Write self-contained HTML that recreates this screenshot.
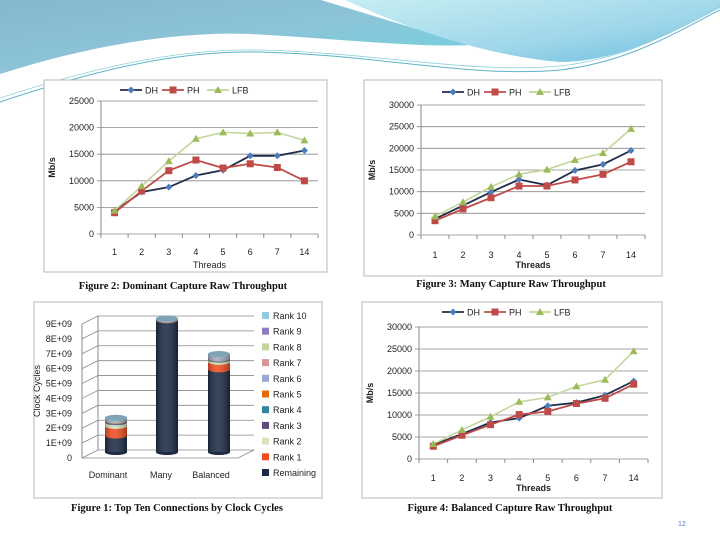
<!DOCTYPE html>
<html><head><meta charset="utf-8"><style>
html,body{margin:0;padding:0;background:#fff;}
svg{display:block;font-family:"Liberation Sans",sans-serif;}
.t{font-size:9px;fill:#222;}
.cap{font-family:"Liberation Serif",serif;font-weight:bold;font-size:10.5px;fill:#111;}
</style></head><body>
<svg id="s" width="720" height="540" viewBox="0 0 720 540">
<defs>
<linearGradient id="gl" x1="0" y1="0" x2="1" y2="1"><stop offset="0" stop-color="#86b7cf"/><stop offset="0.5" stop-color="#8cc4d8"/><stop offset="1" stop-color="#6ed3e2"/></linearGradient>
<linearGradient id="gr" x1="0" y1="0" x2="1" y2="1"><stop offset="0" stop-color="#c6eef2"/><stop offset="0.6" stop-color="#9fd6ea"/><stop offset="1" stop-color="#6bbde0"/></linearGradient>
<linearGradient id="cyl" x1="0" x2="1"><stop offset="0" stop-color="#000" stop-opacity="0.25"/><stop offset="0.4" stop-color="#fff" stop-opacity="0.12"/><stop offset="1" stop-color="#000" stop-opacity="0.3"/></linearGradient>
</defs>
<g>
<path d="M0,0 L321,0 C370,15 420,30 470,45 C420,48 330,38 250,34 C180,31 90,45 0,74 Z" fill="url(#gl)"/>
<path d="M345,0 L720,0 L720,8 C660,40 610,62 560,62 C480,55 400,25 345,0 Z" fill="url(#gr)"/>
<path d="M0,102 C80,75 170,50 260,52 C380,55 470,78 560,70 C630,62 680,30 720,10" fill="none" stroke="#5fb3c7" stroke-width="1"/>
<path d="M0,98 C80,72 170,48 260,50 C380,53 470,74 560,66 C630,58 680,28 720,6" fill="none" stroke="#8fcfdc" stroke-width="0.8"/>
</g>
<g id="charts"></g>
<text x="678" y="526" font-size="7" fill="#4a7ebb">12</text>
</svg>
<script>
// ---- Line chart data ----
const threadCats = ["1","2","3","4","5","6","7","14"];
const seriesNames = ["DH","PH","LFB"];
const fig2DH  = [4300, 7900, 8800, 11000, 12000, 14700, 14700, 15700];
const fig2PH  = [4000, 8100, 11900, 13900, 12400, 13200, 12500, 10000];
const fig2LFB = [4400, 9000, 13700, 17900, 19100, 18900, 19100, 17600];
const fig2Ticks = [0,5000,10000,15000,20000,25000];
const fig3DH  = [3700, 6800, 9900, 12800, 11500, 14900, 16300, 19500];
const fig3PH  = [3300, 6000, 8600, 11300, 11300, 12700, 14000, 16900];
const fig3LFB = [4300, 7600, 11100, 14000, 15100, 17300, 18900, 24500];
const fig3Ticks = [0,5000,10000,15000,20000,25000,30000];
const fig4DH  = [3200, 5700, 8300, 9300, 12100, 12800, 14500, 17700];
const fig4PH  = [2900, 5400, 7800, 10100, 10800, 12600, 13800, 17000];
const fig4LFB = [3400, 6600, 9600, 13000, 14000, 16500, 18000, 24500];
const fig4Ticks = [0,5000,10000,15000,20000,25000,30000];
// ---- Bar chart data (units of 1E+09 clock cycles) ----
const barCats = ["Dominant","Many","Balanced"];
const rankNames = ["Remaining","Rank 1","Rank 2","Rank 3","Rank 4","Rank 5","Rank 6","Rank 7","Rank 8","Rank 9","Rank 10"];
const domStack = [1.1, 0.65, 0.25, 0.05, 0.03, 0.03, 0.04, 0.03, 0.03, 0.03, 0.06];
const manyStack = [8.85, 0.01, 0.01, 0.01, 0.01, 0.01, 0.01, 0.01, 0.01, 0.01, 0.02];
const balStack = [5.55, 0.5, 0.15, 0.03, 0.03, 0.03, 0.15, 0.03, 0.03, 0.03, 0.05];
const barTicks = ["0","1E+09","2E+09","3E+09","4E+09","5E+09","6E+09","7E+09","8E+09","9E+09"];

const NS="http://www.w3.org/2000/svg";
const root=document.getElementById('charts');
function mk(tag,attrs,parent){const e=document.createElementNS(NS,tag);for(const k in attrs)e.setAttribute(k,attrs[k]);(parent||root).appendChild(e);return e;}
function txt(x,y,s,cls,anchor,parent){const e=mk('text',{x:x,y:y,'class':cls,'text-anchor':anchor||'middle'},parent);e.textContent=s;return e;}

const lineColors=["#1f2d4a","#be4b48","#c3d69b"];
const markColors=["#4a7ebb","#be4b48","#9bbb59"];
function marker(g,k,x,y){
  let m;
  if(k===0) m=mk('path',{d:`M${x},${y-3.5}L${x+3.5},${y}L${x},${y+3.5}L${x-3.5},${y}Z`,fill:markColors[0]},g);
  else if(k===1) m=mk('rect',{x:x-3.5,y:y-3.5,width:7,height:7,fill:markColors[1]},g);
  else m=mk('path',{d:`M${x},${y-4}L${x+4},${y+3}L${x-4},${y+3}Z`,fill:markColors[2]},g);
  
  
}
function lineChart(o){
  const g=mk('g',{});
  
  
  const fr=mk('rect',{x:o.fx,y:o.fy,width:o.fw,height:o.fh,fill:'#fff',stroke:'#b8b8b8'},g);
  
  
  const max=o.ticks[o.ticks.length-1];
  const Y=v=>o.y0-(v/max)*(o.y0-o.yTop);
  const cw=(o.xR-o.x0)/threadCats.length;
  const X=i=>o.x0+(i+0.5)*cw;
  o.ticks.forEach(t=>{
    const gl=mk('line',{x1:o.x0-4,x2:o.xR,y1:Y(t),y2:Y(t),stroke:t===0?'#888':'#888','stroke-width':0.8},g);
    
    
    const tl=txt(o.x0-7,Y(t)+3,String(t),'t','end',g);
    
    
  });
  mk('line',{x1:o.x0,x2:o.x0,y1:o.yTop,y2:o.y0,stroke:'#888'},g);
  threadCats.forEach((c,i)=>{
    mk('line',{x1:o.x0+i*cw,x2:o.x0+i*cw,y1:o.y0,y2:o.y0+4,stroke:'#888'},g);
    const tl=txt(X(i),o.tickY,c,'t','middle',g);
    
    
  });
  mk('line',{x1:o.xR,x2:o.xR,y1:o.y0,y2:o.y0+4,stroke:'#888'},g);
  const xt=txt((o.x0+o.xR)/2,o.titleY,'Threads','t','middle',g);
  
  
  xt.setAttribute('font-weight',o.boldT?'bold':'normal');
  const yt=txt(0,0,'Mb/s','t','middle',g);
  yt.setAttribute('transform',`translate(${o.yLabX},${(o.y0+o.yTop)/2}) rotate(-90)`);
  yt.setAttribute('font-weight','bold');
  
  
  o.series.forEach((arr,k)=>{
    const p=mk('polyline',{points:arr.map((v,i)=>X(i)+','+Y(v)).join(' '),fill:'none',stroke:lineColors[k],'stroke-width':k===2?1.6:1.8},g);
    
    
  });
  o.series.forEach((arr,k)=>arr.forEach((v,i)=>marker(g,k,X(i),Y(v))));
  // legend
  let lx=o.legX;
  seriesNames.forEach((n,k)=>{
    const lg=mk('g',{},g);
    
    
    mk('line',{x1:lx,x2:lx+22,y1:o.legY,y2:o.legY,stroke:lineColors[k],'stroke-width':1.8},lg);
    marker(lg,k,lx+11,o.legY);
    const t=txt(lx+25,o.legY+3.5,n,'t','start',lg);t.setAttribute('font-size','10');
    lx+=[42,45,40][k];
  });
  const cp=txt(o.capX,o.capY,o.caption,'cap','middle',g);
  
  
}
lineChart({name:'figure-2-chart',fx:44,fy:80,fw:283,fh:192,x0:101,xR:318,y0:234,yTop:101,ticks:fig2Ticks,tickY:255,titleY:268,yLabX:55,legX:120,legY:90,series:[fig2DH,fig2PH,fig2LFB],capX:183,capY:289,caption:'Figure 2:  Dominant Capture Raw Throughput',boldT:false});
lineChart({name:'figure-3-chart',fx:364,fy:80,fw:298,fh:196,x0:421,xR:645,y0:235,yTop:105,ticks:fig3Ticks,tickY:258,titleY:268,yLabX:375,legX:442,legY:92,series:[fig3DH,fig3PH,fig3LFB],capX:511,capY:287,caption:'Figure 3:  Many Capture Raw Throughput',boldT:true});
lineChart({name:'figure-4-chart',fx:362,fy:302,fw:300,fh:196,x0:419,xR:648,y0:459,yTop:327,ticks:fig4Ticks,tickY:481,titleY:491,yLabX:373,legX:442,legY:312,series:[fig4DH,fig4PH,fig4LFB],capX:510,capY:511,caption:'Figure 4:  Balanced Capture Raw Throughput',boldT:true});

// ---- 3D cylinder bar chart ----
(function(){
  const g=mk('g',{});
  
  
  const fr=mk('rect',{x:34,y:302,width:288,height:196,fill:'#fff',stroke:'#b8b8b8'},g);
  
  
  const y0=458, yTop=324, max=barTicks.length-1;
  const Y=v=>y0-(v/max)*(y0-yTop);
  const dx=16, dy=-8, backR=254;
  barTicks.forEach((t,i)=>{
    const y=Y(i);
    const gl=mk('polyline',{points:`${82},${y} ${82+dx},${y+dy} ${backR},${y+dy}`,fill:'none',stroke:'#888','stroke-width':0.8},g);
    
    
    const tl=txt(72,y+3,t,'t','end',g);
    
    
  });
  mk('polyline',{points:`${82+dx},${Y(max)+dy} ${82+dx},${y0+dy}`,stroke:'#888',fill:'none'},g);
  mk('polyline',{points:`82,${y0} 82,${Y(max)}`,stroke:'#888',fill:'none'},g);
  mk('polyline',{points:`82,${y0} 238,${y0} ${backR},${y0+dy}`,stroke:'#888',fill:'none','stroke-width':0.8},g);
  const yt=txt(0,0,'Clock Cycles','t','middle',g);
  yt.setAttribute('transform',`translate(40,391) rotate(-90)`);
  yt.setAttribute('font-size','10');
  
  
  const colors=["#1c2b45","#f04e23","#d7e4bd","#604a7b","#31859c","#e46c0a","#95a9d0","#d99694","#c3d69b","#8e7cc3","#93cddd"];
  const stacks=[domStack,manyStack,balStack];
  const centers=[116,167,219], w=22, base=452, scale=(y0-yTop)/max;
  stacks.forEach((st,b)=>{
    const bg=mk('g',{},g);
    
    
    let acc=0;
    const cx=centers[b];
    mk('ellipse',{cx:cx,cy:base,rx:w/2,ry:3,fill:colors[0]},bg);
    st.forEach((v,k)=>{
      const yb=base-acc*scale, yt2=base-(acc+v)*scale;
      const seg=mk('path',{d:`M${cx-w/2},${yb} L${cx-w/2},${yt2} L${cx+w/2},${yt2} L${cx+w/2},${yb} A${w/2},3 0 0 1 ${cx-w/2},${yb} Z`,fill:colors[k]},bg);
      
      
      acc+=v;
    });
    const top=base-acc*scale;
    mk('rect',{x:cx-w/2,y:top,width:w,height:base-top,fill:'url(#cyl)'},bg);
    mk('ellipse',{cx:cx,cy:top,rx:w/2,ry:3,fill:'#7fa3b5'},bg);
    const cl=txt(cx-8+ (b===1?2:0),478,barCats[b],'t','middle',g);
    
    
  });
  for(let k=10;k>=0;k--){
    const y=316+(10-k)*15.7;
    const lg=mk('g',{},g);
    
    
    mk('rect',{x:262,y:y-4,width:7,height:7,fill:colors[k]},lg);
    txt(273,y+3,rankNames[k],'t','start',lg);
  }
  const cp=txt(177,511,'Figure 1:  Top Ten Connections by Clock Cycles','cap','middle',g);
  
  
})();
</script>
</body></html>
